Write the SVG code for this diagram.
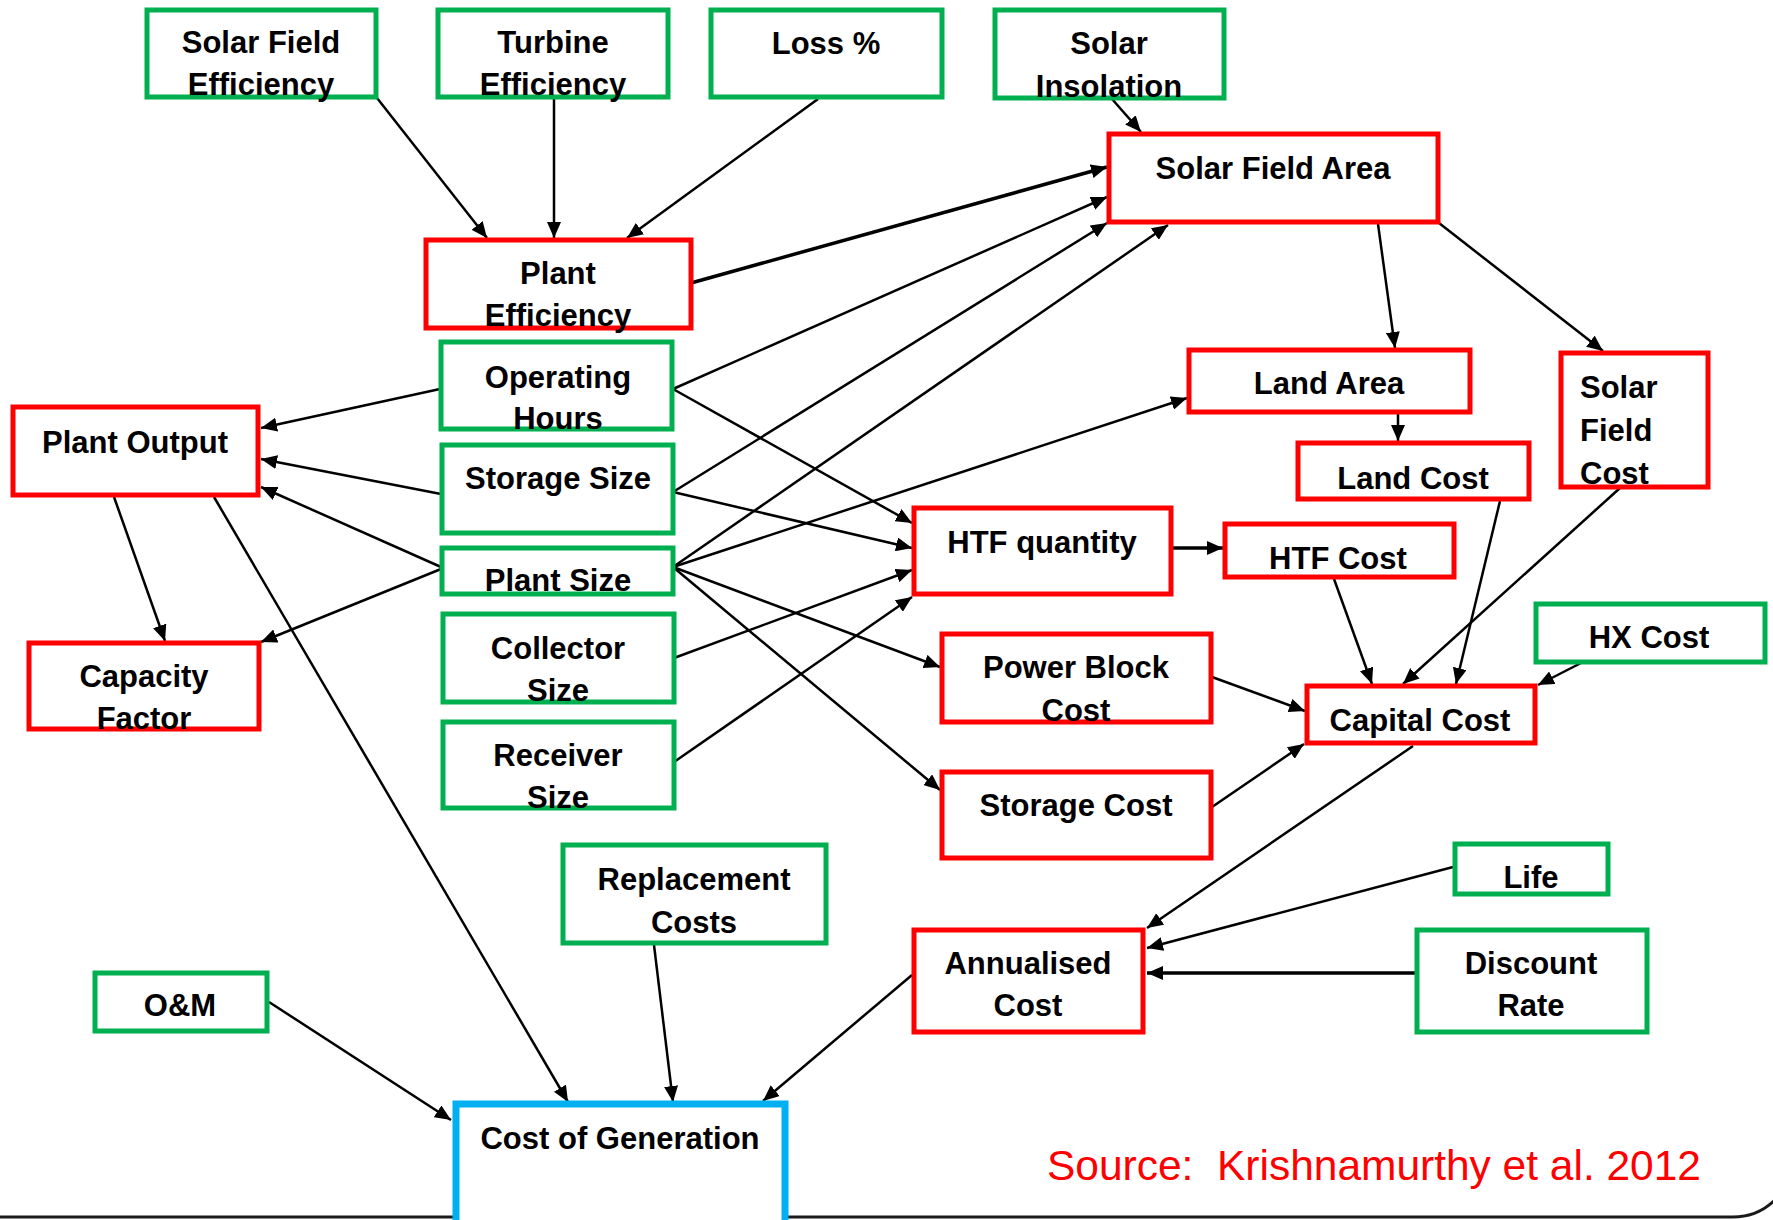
<svg xmlns="http://www.w3.org/2000/svg" width="1773" height="1220" viewBox="0 0 1773 1220">
  <style>
    .box { fill: #ffffff; stroke-width: 5; }
    .in { stroke: #00B050; }
    .calc { stroke: #FF0000; }
    .out { stroke: #00B0F0; stroke-width: 7; }
    .lbl { font-family: "Liberation Sans", Arial, sans-serif; font-weight: bold; font-size: 31px; fill: #000000; text-anchor: middle; }
    .lbl-left { text-anchor: start; }
    .edge { fill: none; stroke: #000000; stroke-width: 2.5; marker-end: url(#arrow); }
    .edge.heavy { stroke-width: 3.5; }
    .src { font-family: "Liberation Sans", Arial, sans-serif; font-size: 43px; fill: #FF0000; }
  </style>
  <defs>
    <marker id="arrow" markerUnits="userSpaceOnUse" viewBox="0 0 16 14" markerWidth="16" markerHeight="14" refX="16" refY="7" orient="auto">
      <path d="M0,0 L16,7 L0,14 z" fill="#000000"/>
    </marker>
  </defs>

  <rect width="1773" height="1220" fill="#ffffff"/>

  <!-- rounded page frame, bottom-right corner -->
  <path d="M0,1217 H1733 A60,60 0 0 0 1793,1157 V0" fill="none" stroke="#1a1a1a" stroke-width="3"/>

  <!-- connectors -->
  <g id="connectors">
    <line class="edge" x1="377" y1="98" x2="487" y2="238"/>
    <line class="edge" x1="554" y1="97" x2="554" y2="238"/>
    <line class="edge" x1="818" y1="99" x2="627" y2="238"/>
    <line class="edge" x1="1112" y1="99" x2="1141" y2="132"/>
    <line class="edge heavy" x1="691" y1="283" x2="1107" y2="167"/>
    <line class="edge" x1="673" y1="389" x2="1107" y2="197"/>
    <line class="edge" x1="673" y1="492" x2="1107" y2="223"/>
    <line class="edge" x1="673" y1="567" x2="1168" y2="225"/>
    <line class="edge" x1="1378" y1="224" x2="1395" y2="348"/>
    <line class="edge" x1="1439" y1="223" x2="1603" y2="351"/>
    <line class="edge" x1="1398" y1="412" x2="1398" y2="441"/>
    <line class="edge" x1="673" y1="389" x2="912" y2="523"/>
    <line class="edge" x1="673" y1="492" x2="912" y2="548"/>
    <line class="edge" x1="674" y1="658" x2="912" y2="570"/>
    <line class="edge" x1="674" y1="762" x2="912" y2="597"/>
    <line class="edge" x1="673" y1="567" x2="1187" y2="398"/>
    <line class="edge" x1="673" y1="567" x2="940" y2="667"/>
    <line class="edge" x1="673" y1="567" x2="940" y2="790"/>
    <line class="edge heavy" x1="1173" y1="548" x2="1223" y2="548"/>
    <line class="edge" x1="1334" y1="579" x2="1372" y2="684"/>
    <line class="edge" x1="1500" y1="501" x2="1456" y2="684"/>
    <line class="edge" x1="1620" y1="488" x2="1403" y2="684"/>
    <line class="edge" x1="1581" y1="663" x2="1538" y2="685"/>
    <line class="edge" x1="1212" y1="677" x2="1305" y2="711"/>
    <line class="edge" x1="1212" y1="807" x2="1304" y2="744"/>
    <line class="edge" x1="1413" y1="746" x2="1147" y2="928"/>
    <line class="edge" x1="1453" y1="867" x2="1147" y2="948"/>
    <line class="edge heavy" x1="1415" y1="973" x2="1147" y2="973"/>
    <line class="edge" x1="912" y1="975" x2="763" y2="1101"/>
    <line class="edge" x1="440" y1="389" x2="261" y2="428"/>
    <line class="edge" x1="441" y1="494" x2="261" y2="459"/>
    <line class="edge" x1="441" y1="567" x2="261" y2="487"/>
    <line class="edge" x1="441" y1="569" x2="261" y2="642"/>
    <line class="edge" x1="114" y1="497" x2="165" y2="641"/>
    <line class="edge" x1="214" y1="497" x2="568" y2="1102"/>
    <line class="edge" x1="654" y1="945" x2="673" y2="1102"/>
    <line class="edge" x1="269" y1="1002" x2="451" y2="1120"/>
  </g>

  <!-- input parameters -->
  <g id="solar-field-efficiency">
    <rect class="box in" x="147" y="10" width="229" height="87"/>
    <text class="lbl" x="261" y="53">Solar Field</text>
    <text class="lbl" x="261" y="95">Efficiency</text>
  </g>
  <g id="turbine-efficiency">
    <rect class="box in" x="438" y="10" width="230" height="87"/>
    <text class="lbl" x="553" y="53">Turbine</text>
    <text class="lbl" x="553" y="95">Efficiency</text>
  </g>
  <g id="loss">
    <rect class="box in" x="711" y="10" width="231" height="87"/>
    <text class="lbl" x="826" y="54">Loss %</text>
  </g>
  <g id="solar-insolation">
    <rect class="box in" x="995" y="10" width="229" height="88"/>
    <text class="lbl" x="1109" y="54">Solar</text>
    <text class="lbl" x="1109" y="97">Insolation</text>
  </g>
  <g id="operating-hours">
    <rect class="box in" x="441" y="342" width="231" height="87"/>
    <text class="lbl" x="558" y="388">Operating</text>
    <text class="lbl" x="558" y="429">Hours</text>
  </g>
  <g id="storage-size">
    <rect class="box in" x="442" y="445" width="231" height="88"/>
    <text class="lbl" x="558" y="489">Storage Size</text>
  </g>
  <g id="plant-size">
    <rect class="box in" x="442" y="548" width="231" height="46"/>
    <text class="lbl" x="558" y="591">Plant Size</text>
  </g>
  <g id="collector-size">
    <rect class="box in" x="443" y="614" width="231" height="88"/>
    <text class="lbl" x="558" y="659">Collector</text>
    <text class="lbl" x="558" y="701">Size</text>
  </g>
  <g id="receiver-size">
    <rect class="box in" x="443" y="722" width="231" height="86"/>
    <text class="lbl" x="558" y="766">Receiver</text>
    <text class="lbl" x="558" y="808">Size</text>
  </g>
  <g id="replacement-costs">
    <rect class="box in" x="563" y="845" width="263" height="98"/>
    <text class="lbl" x="694" y="890">Replacement</text>
    <text class="lbl" x="694" y="933">Costs</text>
  </g>
  <g id="o-and-m">
    <rect class="box in" x="95" y="973" width="172" height="58"/>
    <text class="lbl" x="180" y="1016">O&amp;M</text>
  </g>
  <g id="life">
    <rect class="box in" x="1455" y="844" width="153" height="50"/>
    <text class="lbl" x="1531" y="888">Life</text>
  </g>
  <g id="discount-rate">
    <rect class="box in" x="1417" y="930" width="230" height="102"/>
    <text class="lbl" x="1531" y="974">Discount</text>
    <text class="lbl" x="1531" y="1016">Rate</text>
  </g>
  <g id="hx-cost">
    <rect class="box in" x="1536" y="604" width="229" height="58"/>
    <text class="lbl" x="1649" y="648">HX Cost</text>
  </g>

  <!-- derived quantities -->
  <g id="solar-field-area">
    <rect class="box calc" x="1109" y="134" width="329" height="88"/>
    <text class="lbl" x="1273" y="179">Solar Field Area</text>
  </g>
  <g id="plant-efficiency">
    <rect class="box calc" x="426" y="240" width="265" height="88"/>
    <text class="lbl" x="558" y="284">Plant</text>
    <text class="lbl" x="558" y="326">Efficiency</text>
  </g>
  <g id="plant-output">
    <rect class="box calc" x="13" y="407" width="245" height="88"/>
    <text class="lbl" x="135" y="453">Plant Output</text>
  </g>
  <g id="capacity-factor">
    <rect class="box calc" x="29" y="643" width="230" height="86"/>
    <text class="lbl" x="144" y="687">Capacity</text>
    <text class="lbl" x="144" y="729">Factor</text>
  </g>
  <g id="land-area">
    <rect class="box calc" x="1189" y="350" width="281" height="62"/>
    <text class="lbl" x="1329" y="394">Land Area</text>
  </g>
  <g id="land-cost">
    <rect class="box calc" x="1298" y="443" width="231" height="56"/>
    <text class="lbl" x="1413" y="489">Land Cost</text>
  </g>
  <g id="solar-field-cost">
    <rect class="box calc" x="1561" y="353" width="147" height="134"/>
    <text class="lbl lbl-left" x="1580" y="398">Solar</text>
    <text class="lbl lbl-left" x="1580" y="441">Field</text>
    <text class="lbl lbl-left" x="1580" y="484">Cost</text>
  </g>
  <g id="htf-quantity">
    <rect class="box calc" x="914" y="508" width="257" height="86"/>
    <text class="lbl" x="1042" y="553">HTF quantity</text>
  </g>
  <g id="htf-cost">
    <rect class="box calc" x="1225" y="524" width="229" height="53"/>
    <text class="lbl" x="1338" y="569">HTF Cost</text>
  </g>
  <g id="power-block-cost">
    <rect class="box calc" x="942" y="634" width="269" height="88"/>
    <text class="lbl" x="1076" y="678">Power Block</text>
    <text class="lbl" x="1076" y="721">Cost</text>
  </g>
  <g id="capital-cost">
    <rect class="box calc" x="1307" y="686" width="228" height="57"/>
    <text class="lbl" x="1420" y="731">Capital Cost</text>
  </g>
  <g id="storage-cost">
    <rect class="box calc" x="942" y="772" width="269" height="86"/>
    <text class="lbl" x="1076" y="816">Storage Cost</text>
  </g>
  <g id="annualised-cost">
    <rect class="box calc" x="914" y="930" width="229" height="102"/>
    <text class="lbl" x="1028" y="974">Annualised</text>
    <text class="lbl" x="1028" y="1016">Cost</text>
  </g>

  <!-- final output -->
  <g id="cost-of-generation">
    <rect class="box out" x="456" y="1104" width="329" height="130"/>
    <text class="lbl" x="620" y="1149">Cost of Generation</text>
  </g>

  <text class="src" x="1047" y="1180" textLength="654" lengthAdjust="spacingAndGlyphs" xml:space="preserve">Source:  Krishnamurthy et al. 2012</text>
</svg>
